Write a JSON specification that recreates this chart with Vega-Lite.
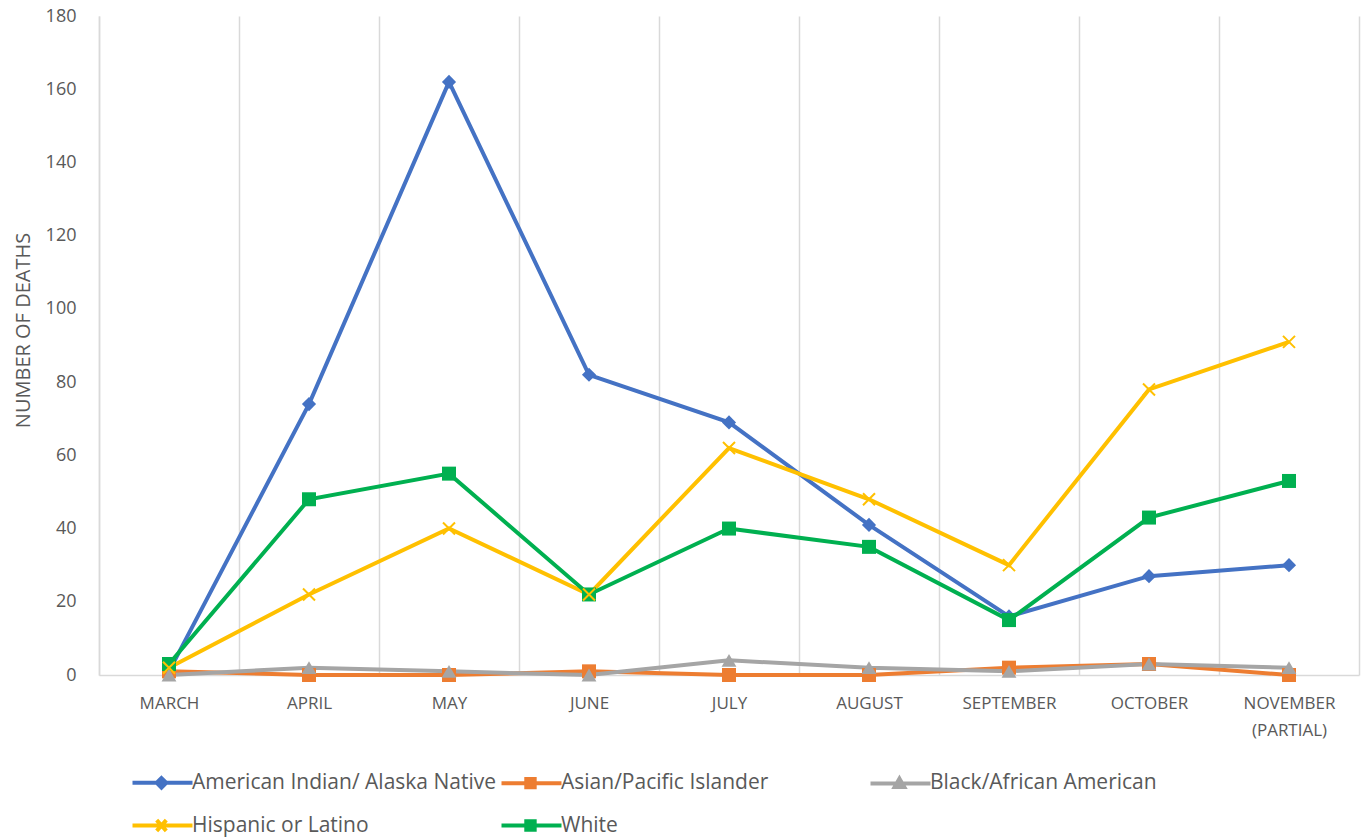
{
  "$schema": "https://vega.github.io/schema/vega-lite/v6.json",
  "width": 1260,
  "height": 659,
  "autosize": {"type": "none"},
  "padding": {"left": 99, "top": 16, "right": 8, "bottom": 165},
  "background": "white",
  "config": {"view": {"stroke": null}, "font": "Open Sans"},
  "data": {
    "values": [
      {"month": "March", "series": "American Indian/ Alaska Native", "value": 1},
      {"month": "April", "series": "American Indian/ Alaska Native", "value": 74},
      {"month": "May", "series": "American Indian/ Alaska Native", "value": 162},
      {"month": "June", "series": "American Indian/ Alaska Native", "value": 82},
      {"month": "July", "series": "American Indian/ Alaska Native", "value": 69},
      {"month": "August", "series": "American Indian/ Alaska Native", "value": 41},
      {"month": "September", "series": "American Indian/ Alaska Native", "value": 16},
      {"month": "October", "series": "American Indian/ Alaska Native", "value": 27},
      {"month": "November (partial)", "series": "American Indian/ Alaska Native", "value": 30},
      {"month": "March", "series": "Asian/Pacific Islander", "value": 1},
      {"month": "April", "series": "Asian/Pacific Islander", "value": 0},
      {"month": "May", "series": "Asian/Pacific Islander", "value": 0},
      {"month": "June", "series": "Asian/Pacific Islander", "value": 1},
      {"month": "July", "series": "Asian/Pacific Islander", "value": 0},
      {"month": "August", "series": "Asian/Pacific Islander", "value": 0},
      {"month": "September", "series": "Asian/Pacific Islander", "value": 2},
      {"month": "October", "series": "Asian/Pacific Islander", "value": 3},
      {"month": "November (partial)", "series": "Asian/Pacific Islander", "value": 0},
      {"month": "March", "series": "Black/African American", "value": 0},
      {"month": "April", "series": "Black/African American", "value": 2},
      {"month": "May", "series": "Black/African American", "value": 1},
      {"month": "June", "series": "Black/African American", "value": 0},
      {"month": "July", "series": "Black/African American", "value": 4},
      {"month": "August", "series": "Black/African American", "value": 2},
      {"month": "September", "series": "Black/African American", "value": 1},
      {"month": "October", "series": "Black/African American", "value": 3},
      {"month": "November (partial)", "series": "Black/African American", "value": 2},
      {"month": "March", "series": "Hispanic or Latino", "value": 2},
      {"month": "April", "series": "Hispanic or Latino", "value": 22},
      {"month": "May", "series": "Hispanic or Latino", "value": 40},
      {"month": "June", "series": "Hispanic or Latino", "value": 22},
      {"month": "July", "series": "Hispanic or Latino", "value": 62},
      {"month": "August", "series": "Hispanic or Latino", "value": 48},
      {"month": "September", "series": "Hispanic or Latino", "value": 30},
      {"month": "October", "series": "Hispanic or Latino", "value": 78},
      {"month": "November (partial)", "series": "Hispanic or Latino", "value": 91},
      {"month": "March", "series": "White", "value": 3},
      {"month": "April", "series": "White", "value": 48},
      {"month": "May", "series": "White", "value": 55},
      {"month": "June", "series": "White", "value": 22},
      {"month": "July", "series": "White", "value": 40},
      {"month": "August", "series": "White", "value": 35},
      {"month": "September", "series": "White", "value": 15},
      {"month": "October", "series": "White", "value": 43},
      {"month": "November (partial)", "series": "White", "value": 53}
    ]
  },
  "encoding": {
    "x": {
      "field": "month",
      "type": "nominal",
      "sort": ["March", "April", "May", "June", "July", "August", "September", "October", "November (partial)"],
      "scale": {"type": "band", "paddingInner": 0, "paddingOuter": 0},
      "bandPosition": 0.5,
      "axis": {
        "title": null,
        "tickBand": "extent",
        "grid": true,
        "gridColor": "#d9d9d9",
        "gridWidth": 1.5,
        "ticks": false,
        "domainColor": "#d9d9d9",
        "domainWidth": 1.5,
        "labelFont": "Open Sans",
        "labelFontSize": 17,
        "labelColor": "#595959",
        "labelAngle": 0,
        "labelPadding": 20,
        "labelLineHeight": 27,
        "labelExpr": "!isValid(datum.value) ? '' : datum.value == 'November (partial)' ? ['NOVEMBER', '(PARTIAL)'] : upper(datum.value)"
      }
    },
    "y": {
      "field": "value",
      "type": "quantitative",
      "scale": {"domain": [0, 180], "nice": false},
      "axis": {
        "title": "NUMBER OF DEATHS",
        "titleFont": "Open Sans",
        "titleFontSize": 20,
        "titleFontWeight": "normal",
        "titleColor": "#595959",
        "titlePadding": 12,
        "titleY": 314,
        "values": [0, 20, 40, 60, 80, 100, 120, 140, 160, 180],
        "grid": false,
        "ticks": false,
        "domainColor": "#d9d9d9",
        "domainWidth": 1.5,
        "labelFont": "Open Sans",
        "labelFontSize": 18,
        "labelColor": "#595959",
        "labelPadding": 23
      }
    },
    "color": {
      "field": "series",
      "type": "nominal",
      "scale": {
        "domain": ["American Indian/ Alaska Native", "Asian/Pacific Islander", "Black/African American", "Hispanic or Latino", "White"],
        "range": ["#4472C4", "#ED7D31", "#A5A5A5", "#FFC000", "#00B050"]
      },
      "legend": {
        "title": null,
        "orient": "none",
        "legendX": 29,
        "legendY": 756,
        "direction": "horizontal",
        "columns": 3,
        "gridAlign": "all",
        "columnPadding": -4,
        "rowPadding": 16,
        "padding": 0,
        "symbolSize": 144,
        "symbolType": "stroke",
        "symbolStrokeWidth": 4,
        "labelOffset": 43,
        "labelFont": "Open Sans",
        "labelFontSize": 21,
        "labelColor": "#595959",
        "labelLimit": 400,
        "encode": {
          "symbols": {
            "update": {
              "shape": {"signal": "datum.value == 'American Indian/ Alaska Native' ? 'M-1,0H9M3.83,-0.8L4.63,0L3.83,0.8L3.03,0Z' : datum.value == 'Asian/Pacific Islander' ? 'M-1,0H9M3.13,-0.7H4.53V0.7H3.13Z' : datum.value == 'Black/African American' ? 'M-1,0H9M3.83,-0.8L4.63,0.6H3.03Z' : datum.value == 'Hispanic or Latino' ? 'M-1,0H9M3.03,-0.9L4.63,0.9M4.63,-0.9L3.03,0.9' : 'M-1,0H9M3.13,-0.7H4.53V0.7H3.13Z'"},
              "fill": {"scale": "color", "field": "value"},
              "stroke": {"scale": "color", "field": "value"},
              "strokeWidth": {"value": 4},
              "opacity": {"value": 1}
            }
          }
        }
      }
    }
  },
  "layer": [
    {"mark": {"type": "line", "strokeWidth": 4}},
    {
      "transform": [{"filter": "datum.series == 'American Indian/ Alaska Native'"}],
      "mark": {"type": "point", "shape": "diamond", "filled": true, "size": 200, "opacity": 1, "strokeWidth": 0}
    },
    {
      "transform": [{"filter": "datum.series == 'Asian/Pacific Islander' || datum.series == 'White'"}],
      "mark": {"type": "point", "shape": "square", "filled": true, "size": 196, "opacity": 1, "strokeWidth": 0}
    },
    {
      "transform": [{"filter": "datum.series == 'Black/African American'"}],
      "mark": {"type": "point", "shape": "triangle-up", "filled": true, "size": 220, "opacity": 1, "strokeWidth": 0}
    },
    {
      "transform": [{"filter": "datum.series == 'Hispanic or Latino'"}],
      "mark": {"type": "point", "shape": "M-1,-1L1,1M1,-1L-1,1", "filled": false, "size": 144, "opacity": 1, "strokeWidth": 2}
    }
  ]
}
